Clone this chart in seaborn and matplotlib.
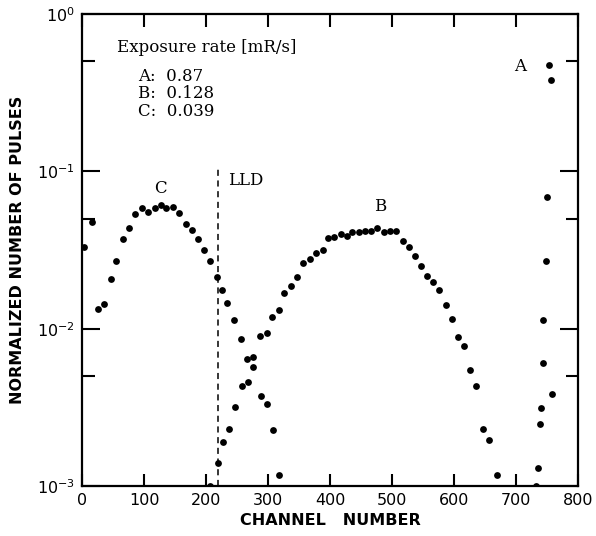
import matplotlib
matplotlib.use("Agg")
import matplotlib.pyplot as plt
import matplotlib.ticker as mticker
import seaborn as sns

# Pulse height spectra (channel, normalized number of pulses)
# C: 0.039 mR/s
c_channel = [4, 16, 25, 35, 46, 55, 66, 76, 86, 96, 107, 117, 127, 136, 147, 156,
             167, 177, 187, 196, 206, 217, 226, 234, 245, 256, 266, 276, 288, 298, 308, 318]
c_pulses = [0.0329, 0.0474, 0.0133, 0.0144, 0.0206, 0.0268, 0.0373, 0.0437, 0.0536,
            0.0587, 0.0555, 0.0582, 0.0611, 0.0582, 0.0597, 0.0542, 0.0465, 0.0422,
            0.0372, 0.0318, 0.0270, 0.0212, 0.0176, 0.0146, 0.0113, 0.00856, 0.00645,
            0.00573, 0.00375, 0.00330, 0.00227, 0.00117]

# B: 0.128 mR/s
b_channel = [206, 219, 227, 237, 247, 258, 267, 276, 287, 298, 307, 318, 326, 337, 346,
             357, 367, 377, 388, 397, 407, 417, 427, 435, 446, 456, 466, 476, 487, 497,
             507, 517, 527, 537, 547, 557, 566, 576, 587, 597, 607, 616, 626, 636, 646,
             657, 669]
b_pulses = [0.00100, 0.00141, 0.00190, 0.00229, 0.00316, 0.00434, 0.00456, 0.00661,
            0.00904, 0.00944, 0.0118, 0.0131, 0.0169, 0.0186, 0.0213, 0.0263, 0.0277,
            0.0302, 0.0316, 0.0376, 0.0381, 0.0398, 0.0387, 0.0410, 0.0410, 0.0420,
            0.0416, 0.0437, 0.0412, 0.0416, 0.0416, 0.0360, 0.0330, 0.0288, 0.0250,
            0.0216, 0.0199, 0.0175, 0.0141, 0.0116, 0.00886, 0.00773, 0.00544, 0.00430,
            0.00231, 0.00196, 0.00118]

# A: 0.87 mR/s
a_channel = [732, 736, 738, 741, 743, 744, 748, 750, 753, 756, 758]
a_pulses = [0.00100, 0.00131, 0.00248, 0.00315, 0.00603, 0.0113, 0.0268, 0.0684,
            0.474, 0.381, 0.00383]

lld_channel = 220
lld_top = 0.105

x_ticks = [0, 100, 200, 300, 400, 500, 600, 700, 800]
rate_lines = ["A:  0.87", "B:  0.128", "C:  0.039"]

sns.set_style("ticks")
plt.rcParams["font.family"] = ["DejaVu Sans"]
plt.rcParams["text.color"] = "black"
plt.rcParams["axes.labelcolor"] = "black"
plt.rcParams["axes.linewidth"] = 1.6

fig = plt.figure(figsize=(5.96, 5.36), dpi=100)
ax = fig.add_axes([0.1376, 0.0933, 0.8322, 0.8806])

for xs, ys in [(c_channel, c_pulses), (b_channel, b_pulses), (a_channel, a_pulses)]:
    sns.scatterplot(x=xs, y=ys, ax=ax, color="black", s=24, linewidth=0, zorder=3)

ax.plot([lld_channel, lld_channel], [1e-3, lld_top], color="black",
        linestyle=(0, (4, 3)), linewidth=1.1)

ax.set_yscale("log")
ax.set_xlim(0, 800)
ax.set_ylim(1e-3, 1)
ax.set_xticks(x_ticks)
ax.set_xticklabels([str(t) for t in x_ticks])
ax.yaxis.set_major_locator(mticker.LogLocator(base=10))
ax.yaxis.set_minor_locator(mticker.LogLocator(base=10, subs=[5.0]))
ax.yaxis.set_minor_formatter(mticker.NullFormatter())

for s in ax.spines.values():
    s.set_visible(True)
    s.set_color("black")
    s.set_linewidth(1.6)

ax.tick_params(axis="both", which="both", direction="in", top=True, right=True,
               width=1.5, colors="black", labelsize=11.5, pad=5)
ax.tick_params(axis="x", which="major", length=9)
ax.tick_params(axis="y", which="major", length=13)
ax.tick_params(axis="y", which="minor", length=9)

ax.set_xlabel("CHANNEL   NUMBER", fontsize=11.5, fontweight="bold")
ax.set_ylabel("NORMALIZED NUMBER OF PULSES", fontsize=11.5, fontweight="bold")
ax.xaxis.set_label_coords(0.5, -0.058)
ax.yaxis.set_label_coords(-0.115, 0.5)

serif = {"family": "DejaVu Serif", "fontsize": 12, "color": "black"}
ax.text(0.071, 0.930, "Exposure rate [mR/s]", transform=ax.transAxes,
        ha="left", va="center", **serif)
for i, line in enumerate(rate_lines):
    ax.text(0.113, 0.868 - i * 0.037, line, transform=ax.transAxes,
            ha="left", va="center", **serif)

ax.text(126, 0.078, "C", ha="center", va="center", **serif)
ax.text(481, 0.0594, "B", ha="center", va="center", **serif)
ax.text(706, 0.461, "A", ha="center", va="center", **serif)
ax.text(236, 0.088, "LLD", ha="left", va="center", **serif)

fig.savefig("out.png", dpi=100)
